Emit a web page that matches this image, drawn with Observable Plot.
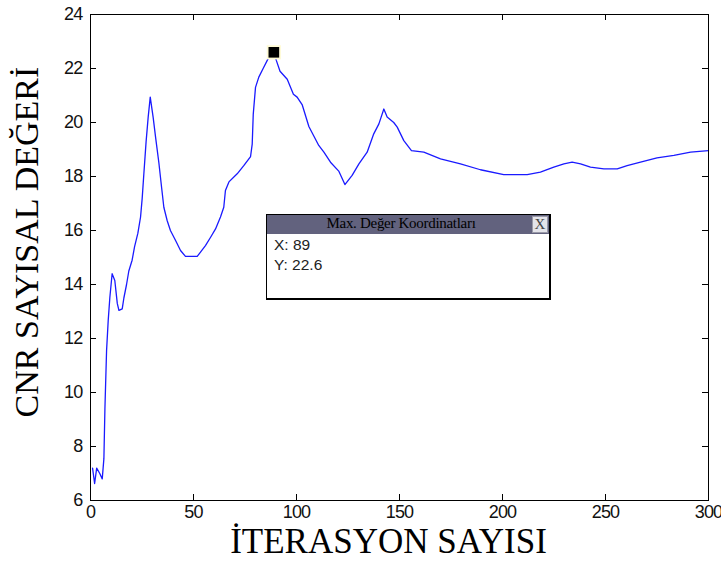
<!DOCTYPE html>
<html>
<head>
<meta charset="utf-8">
<script src="https://cdn.jsdelivr.net/npm/d3@7"></script>
<script src="https://cdn.jsdelivr.net/npm/@observablehq/plot@0.6"></script>
<style>
  html, body { margin: 0; padding: 0; background: #fff; }
  #wrap { position: relative; width: 721px; height: 563px; }
  #wrap svg g[aria-label$="tick label"] { font-stretch: condensed; letter-spacing: -0.8px; }
  #tip { position: absolute; left: 266px; top: 214px; width: 282px; height: 83px;
         border: 1px solid #000; border-right-width: 2px; border-bottom-width: 2px; background: #fff; box-sizing: content-box; }
  #tip .bar { height: 19px; background: #62627e; position: relative; }
  #tip .bar span { position: absolute; left: 0; right: 14px; top: 0px; text-align: center; line-height: 19px;
         font: 15px "Liberation Serif", "DejaVu Serif", serif; color: #000; letter-spacing: -0.3px; }
  #tip .btn { position: absolute; right: 1px; top: 1px; width: 16px; height: 17px; background: #e4e4ea;
         border: 1px solid #9a9aa8; font: 15px "Liberation Serif", serif; line-height: 15px; text-align: center; color: #444; box-sizing: border-box; }
  #tip .body { padding: 1px 0 0 7px; font: 15.5px "Liberation Sans", Arial, sans-serif; color: #222; line-height: 19.5px; }
</style>
</head>
<body>
<div id="wrap"></div>
<script>
// Iteration numbers and CNR values
const iterations = [1, 2, 3, 4.5, 5.7, 6.5, 7, 7.8, 8.6, 9.4, 10.5, 11.8, 13, 13.8, 15.4, 16.2, 17.5, 18.6, 20.2, 21.4,
  23, 24.3, 25.1, 25.9, 27, 28, 29, 30.4, 31.6, 33.2, 34.5, 35.6, 37.2, 38.8, 41.3, 43.7, 46.1, 48.5, 51.8, 53.4,
  55.8, 58.3, 60.7, 63.1, 64.7, 65.5, 67.2, 71.2, 74.4, 77.7, 78.5, 79, 80.1, 81.7, 83.8, 85.8, 87.4, 89,
  90.2, 92, 95.5, 98.5, 100.3, 102.8, 106, 108.4, 110.8, 113.3, 116.5, 120.5, 123.5, 127, 130.3, 134.3, 137.5,
  140, 142.4, 144, 147.2, 148.9, 152.1, 155.8, 161.8, 169.9, 179.6, 189.3, 200.6, 212, 218.4, 224.9, 229.8,
  233.8, 237.9, 242.7, 249.2, 255.7, 260.5, 267, 275, 283.2, 291.3, 300];
const cnrValues = [7.2, 6.63, 7.2, 7.0, 6.8, 7.55, 9.4, 11.55, 12.67, 13.53, 14.4, 14.15, 13.3, 13.04, 13.1, 13.5, 14.0, 14.5, 14.9, 15.4,
  15.9, 16.5, 17.2, 18.1, 19.3, 20.2, 20.94, 20.2, 19.45, 18.5, 17.6, 16.86, 16.37, 16.0, 15.63, 15.26, 15.04, 15.04, 15.04, 15.2,
  15.44, 15.75, 16.06, 16.5, 16.86, 17.48, 17.8, 18.1, 18.4, 18.74, 19.2, 20.3, 21.3, 21.68, 22.0, 22.3, 22.54, 22.6,
  22.3, 21.9, 21.6, 21.05, 20.94, 20.65, 19.85, 19.5, 19.15, 18.9, 18.53, 18.2, 17.7, 18.04, 18.47, 18.9, 19.58,
  19.95, 20.5, 20.2, 20.0, 19.83, 19.33, 18.96, 18.9, 18.65, 18.47, 18.25, 18.07, 18.07, 18.16, 18.35, 18.47,
  18.53, 18.47, 18.35, 18.28, 18.28, 18.4, 18.53, 18.69, 18.78, 18.9, 18.96];
const xTicks = [0, 50, 100, 150, 200, 250, 300];
const yTicks = [6, 8, 10, 12, 14, 16, 18, 20, 22, 24];
const maxPoint = [{x: 89, y: 22.6}];
const xLabel = "İTERASYON SAYISI";
const yLabel = "CNR SAYISAL DEĞERİ";
const tipTitle = "Max. Değer Koordinatları";

const data = iterations.map((x, i) => ({x, y: cnrValues[i]}));
const innerH = 563 - 14 - 63;
const innerW = 721 - 90 - 13;
const tickFont = "'Liberation Sans Narrow', 'Liberation Sans', Arial, sans-serif";

const chart = Plot.plot({
  width: 721, height: 563,
  marginLeft: 90, marginRight: 13, marginTop: 14, marginBottom: 63,
  style: {background: "#fff", fontFamily: "'Liberation Sans', Arial, sans-serif", overflow: "visible"},
  x: {domain: [0, 300]},
  y: {domain: [6, 24]},
  marks: [
    Plot.line(data, {x: "x", y: "y", stroke: "#1a1aff", strokeWidth: 1.3}),
    // inward ticks on all four sides
    Plot.tickX(xTicks, {x: d => d, insetTop: innerH - 6, stroke: "#000"}),
    Plot.tickX(xTicks, {x: d => d, insetBottom: innerH - 6, stroke: "#000"}),
    Plot.tickY(yTicks, {y: d => d, insetRight: innerW - 6, stroke: "#000"}),
    Plot.tickY(yTicks, {y: d => d, insetLeft: innerW - 6, stroke: "#000"}),
    Plot.frame({stroke: "#000"}),
    Plot.axisX(xTicks, {tickSize: 0, tickPadding: 5, fontSize: 18, label: null, fill: "#111", fontFamily: tickFont}),
    Plot.axisY(yTicks, {tickSize: 0, tickPadding: 8, fontSize: 18, label: null, fill: "#111", fontFamily: tickFont}),
    Plot.text([xLabel], {frameAnchor: "bottom", dx: -11, dy: 52, text: d => d, fontSize: 35,
      textAnchor: "middle", fontFamily: "'Liberation Serif', 'DejaVu Serif', serif", fill: "#000"}),
    Plot.text([yLabel], {frameAnchor: "left", dx: -63, dy: -15.5, rotate: -90, text: d => d, fontSize: 34,
      textAnchor: "middle", fontFamily: "'Liberation Serif', 'DejaVu Serif', serif", fill: "#000"}),
    Plot.dot(maxPoint, {x: "x", y: "y", symbol: "square", r: 8, fill: "#fffbd6", stroke: "none"}),
    Plot.dot(maxPoint, {x: "x", y: "y", symbol: "square", r: 6, fill: "#000", stroke: "none"})
  ]
});

const wrap = document.getElementById("wrap");
wrap.appendChild(chart);
const tip = document.createElement("div");
tip.id = "tip";
tip.innerHTML = `<div class="bar"><span>${tipTitle}</span><div class="btn">X</div></div>
  <div class="body">X: ${maxPoint[0].x}<br>Y: ${maxPoint[0].y}</div>`;
wrap.appendChild(tip);
</script>
</body>
</html>
